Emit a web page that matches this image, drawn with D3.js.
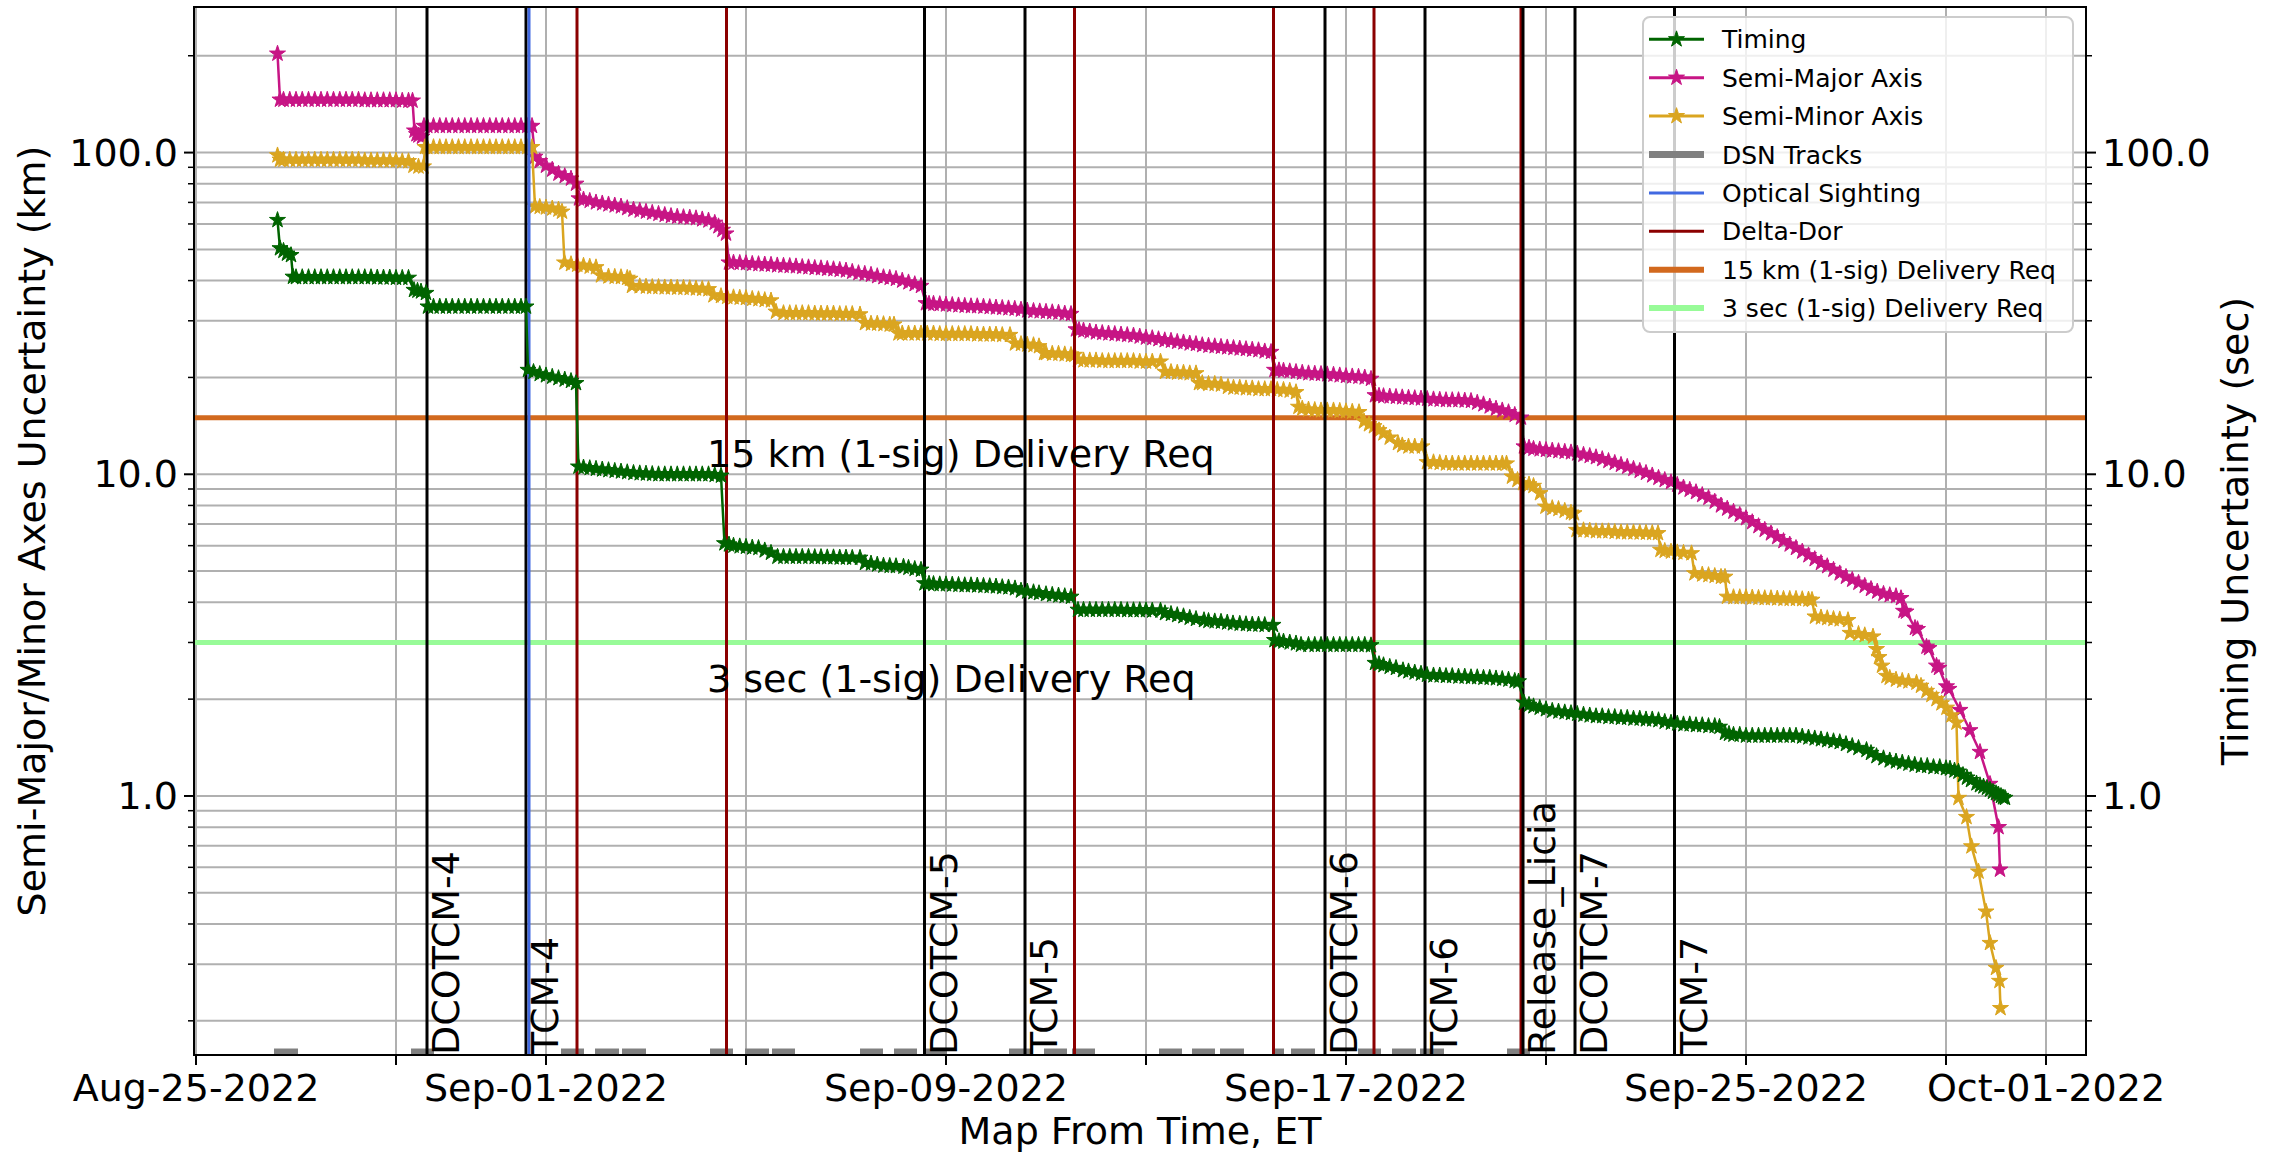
<!DOCTYPE html>
<html><head><meta charset="utf-8">
<script src="https://cdn.jsdelivr.net/npm/d3@7"></script>
<style>
body{margin:0;background:#fff;}
text{font-family:"DejaVu Sans",sans-serif;fill:#000;}
</style>
</head><body>
<svg id="chart" width="2279" height="1155"></svg>
<script>
// ---------------- DATA ----------------
// time values are days after 2022-08-25 00:00 UTC
const xTickDates = ["2022-08-25","2022-08-29","2022-09-01","2022-09-05","2022-09-09","2022-09-13","2022-09-17","2022-09-21","2022-09-25","2022-09-29","2022-10-01"];
const xTickLabels = ["Aug-25-2022","","Sep-01-2022","","Sep-09-2022","","Sep-17-2022","","Sep-25-2022","","Oct-01-2022"];
const yMajorTicks = [1, 10, 100];
const yMajorLabels = ["1.0", "10.0", "100.0"];
const yMinorTicks = [0.2,0.3,0.4,0.5,0.6,0.7,0.8,0.9,2,3,4,5,6,7,8,9,20,30,40,50,60,70,80,90,200];

const timing = [[1.63,61.7],[1.68,50.4],[1.75,49.5],[1.82,48.5],[1.9,48],[1.94,41.1],
[2.0,41],[2.125,41],[2.25,41],[2.375,41],[2.5,41],[2.625,41],[2.75,41],[2.875,41],[3.0,41],[3.125,41],[3.25,41],[3.375,41],[3.5,41],[3.625,40.9],[3.75,40.9],[3.875,40.9],[4.0,40.8],[4.125,40.8],[4.25,40.8],
[4.36,37.4],[4.43,37.2],[4.5,37],[4.6,36.6],
[4.64,33.2],[4.75,33.2],[4.875,33.2],[5.0,33.2],[5.125,33.2],[5.25,33.2],[5.375,33.2],[5.5,33.2],[5.625,33.2],[5.75,33.2],[5.875,33.2],[6.0,33.2],[6.125,33.2],[6.25,33.2],[6.375,33.2],[6.5,33.2],[6.6,33.2],
[6.64,21.1],[6.75,20.8],[6.875,20.5],[7.0,20.3],[7.125,20.1],[7.25,19.9],[7.375,19.7],[7.5,19.5],[7.6,19.2],
[7.65,10.56],[7.75,10.5],[7.875,10.45],[8.0,10.4],[8.125,10.35],[8.25,10.3],[8.375,10.25],[8.5,10.2],[8.625,10.15],[8.75,10.1],[8.875,10.07],[9.0,10.05],[9.125,10.02],[9.25,10.0],[9.375,10.0],[9.5,10.0],[9.625,10.0],[9.75,10.0],[9.875,10.0],[10.0,10.0],[10.125,10.0],[10.25,10.0],[10.375,9.95],[10.5,9.9],
[10.57,6.1],[10.66,6.05],[10.75,6.0],[10.875,5.97],[11.0,5.95],[11.125,5.92],[11.25,5.9],[11.375,5.8],[11.5,5.7],[11.63,5.54],[11.75,5.54],[11.875,5.54],[12.0,5.54],[12.125,5.54],[12.25,5.54],[12.375,5.53],[12.5,5.53],[12.625,5.52],[12.75,5.52],[12.875,5.51],[13.0,5.51],[13.125,5.5],[13.28,5.5],
[13.38,5.3],[13.5,5.28],[13.625,5.24],[13.75,5.2],[13.875,5.19],[14.0,5.18],[14.15,5.16],[14.25,5.12],[14.375,5.08],[14.5,5.05],
[14.57,4.58],[14.66,4.57],[14.75,4.56],[14.875,4.55],[15.0,4.55],[15.125,4.54],[15.25,4.53],[15.375,4.52],[15.5,4.52],[15.625,4.51],[15.75,4.5],[15.875,4.49],[16.0,4.48],[16.125,4.46],[16.25,4.45],[16.38,4.42],[16.5,4.35],[16.625,4.32],[16.75,4.3],[16.86,4.27],[17.0,4.24],[17.125,4.22],[17.25,4.2],[17.375,4.18],[17.5,4.16],
[17.64,3.79],[17.75,3.79],[17.875,3.79],[18.0,3.79],[18.125,3.79],[18.25,3.79],[18.375,3.79],[18.5,3.79],[18.625,3.78],[18.75,3.78],[18.875,3.78],[19.0,3.78],[19.125,3.77],[19.29,3.77],
[19.38,3.7],[19.5,3.68],[19.625,3.65],[19.75,3.62],[19.875,3.58],[20.0,3.55],[20.16,3.52],[20.25,3.5],[20.375,3.49],[20.5,3.48],[20.625,3.46],[20.74,3.44],[20.875,3.43],[21.0,3.42],[21.125,3.41],[21.25,3.41],[21.375,3.4],[21.54,3.4],
[21.57,3.05],[21.66,3.03],[21.75,3.02],[21.875,3.0],[22.0,2.98],[22.1,2.95],[22.25,2.95],[22.375,2.95],[22.5,2.95],[22.625,2.95],[22.75,2.95],[22.875,2.95],[23.0,2.95],[23.125,2.95],[23.25,2.95],[23.375,2.95],[23.5,2.94],
[23.58,2.59],[23.66,2.57],[23.75,2.55],[23.875,2.52],[24.0,2.5],[24.14,2.46],[24.25,2.44],[24.375,2.42],[24.5,2.4],[24.62,2.38],[24.75,2.37],[24.875,2.37],[25.0,2.36],[25.125,2.36],[25.25,2.35],[25.375,2.35],[25.5,2.34],[25.625,2.34],[25.75,2.33],[25.875,2.33],[26.0,2.32],[26.125,2.31],[26.25,2.3],[26.375,2.28],[26.45,2.27],
[26.56,1.95],[26.66,1.92],[26.75,1.9],[26.875,1.88],[27.0,1.86],[27.125,1.84],[27.25,1.83],[27.375,1.82],[27.5,1.81],[27.625,1.8],[27.75,1.79],[27.875,1.78],[28.0,1.77],[28.125,1.77],[28.25,1.76],[28.375,1.76],[28.5,1.75],[28.625,1.75],[28.75,1.74],[28.875,1.74],[29.0,1.73],[29.125,1.73],[29.25,1.72],[29.375,1.7],[29.5,1.69],[29.625,1.68],[29.75,1.67],[29.875,1.67],[30.0,1.66],[30.125,1.66],[30.25,1.65],[30.375,1.65],[30.47,1.64],
[30.58,1.57],[30.66,1.56],[30.75,1.55],[30.875,1.55],[31.0,1.54],[31.125,1.54],[31.25,1.54],[31.375,1.54],[31.5,1.54],[31.625,1.54],[31.75,1.54],[31.875,1.54],[32.0,1.54],[32.125,1.53],[32.25,1.52],[32.375,1.51],[32.5,1.5],[32.625,1.49],[32.75,1.48],[32.875,1.47],[33.0,1.45],[33.125,1.43],[33.25,1.41],[33.41,1.39],[33.5,1.36],[33.61,1.33],[33.75,1.31],[33.875,1.29],[34.0,1.28],[34.125,1.27],[34.25,1.26],[34.375,1.25],[34.5,1.24],[34.625,1.24],[34.75,1.23],[34.875,1.23],[35.0,1.22],[35.08,1.216],[35.17,1.2],[35.25,1.19],[35.34,1.162],[35.42,1.14],[35.5,1.12],[35.61,1.094],[35.68,1.08],[35.75,1.07],[35.82,1.06],[35.88,1.046],[35.94,1.03],[36.0,1.02],[36.05,1.01],[36.1,1.0],[36.14,0.99],[36.18,0.986]];

const semiMajor = [[1.63,203],[1.68,146],[1.75,146],[1.875,146],[2.0,146],[2.125,146],[2.25,146],[2.375,146],[2.5,146],[2.625,146],[2.75,146],[2.875,146],[3.0,146],[3.125,146],[3.25,146],[3.375,145.5],[3.5,145.5],[3.625,145.5],[3.75,145.5],[3.875,145.5],[4.0,145.5],[4.125,145],[4.25,145],[4.33,145],
[4.37,117],[4.41,114],[4.45,113],[4.52,112],[4.56,121],[4.625,121],[4.75,121],[4.875,121],[5.0,121],[5.125,121],[5.25,121],[5.375,121],[5.5,121],[5.625,121],[5.75,121],[5.875,121],[6.0,121],[6.125,121],[6.25,121],[6.375,121],[6.5,121],[6.625,121],[6.72,121],
[6.78,97],[6.875,94],[7.0,91],[7.125,88.5],[7.25,86],[7.375,84.5],[7.5,83],[7.6,80],
[7.66,72],[7.75,71.5],[7.875,70.8],[8.0,70],[8.125,69.5],[8.25,69],[8.375,68.5],[8.5,68],[8.625,67.2],[8.75,66.5],[8.875,66],[9.0,65.5],[9.125,65],[9.25,64.5],[9.375,64],[9.5,63.5],[9.625,63.2],[9.75,63],[9.875,62.8],[10.0,62.5],[10.125,62],[10.25,61.5],[10.375,60.5],[10.45,59],[10.53,57.5],[10.6,56],
[10.66,45.5],[10.75,45.5],[10.875,45.4],[11.0,45.3],[11.125,45.1],[11.25,45],[11.375,44.9],[11.5,44.8],[11.625,44.6],[11.75,44.5],[11.875,44.4],[12.0,44.3],[12.125,44.1],[12.25,44],[12.375,43.8],[12.5,43.7],[12.625,43.5],[12.75,43.4],[12.875,43.2],[13.0,43],[13.125,42.6],[13.25,42.2],[13.375,42],[13.5,41.7],[13.625,41.3],[13.75,41],[13.875,40.8],[14.0,40.5],[14.125,40],[14.25,39.5],[14.375,39],[14.5,38.5],
[14.6,34],[14.66,33.9],[14.75,33.9],[14.875,33.8],[15.0,33.7],[15.125,33.6],[15.25,33.5],[15.375,33.4],[15.5,33.3],[15.625,33.3],[15.75,33.2],[15.875,33.1],[16.0,33],[16.125,32.9],[16.25,32.8],[16.375,32.7],[16.5,32.5],[16.625,32.3],[16.75,32.2],[16.875,32.1],[17.0,32],[17.125,31.9],[17.25,31.8],[17.375,31.6],[17.5,31.5],
[17.6,28.2],[17.66,28.1],[17.75,28],[17.875,27.8],[18.0,27.6],[18.125,27.5],[18.25,27.4],[18.375,27.3],[18.5,27.2],[18.625,27.1],[18.75,27.0],[18.875,26.8],[19.0,26.6],[19.125,26.5],[19.25,26.3],[19.375,26.1],[19.5,26],[19.625,25.8],[19.75,25.7],[19.875,25.5],[20.0,25.4],[20.125,25.2],[20.25,25.1],[20.375,25],[20.5,24.9],[20.625,24.8],[20.75,24.7],[20.875,24.6],[21.0,24.5],[21.125,24.4],[21.25,24.3],[21.375,24.1],[21.5,24.0],
[21.57,21.1],[21.66,21.05],[21.75,21.0],[21.875,20.9],[22.0,20.8],[22.125,20.7],[22.25,20.6],[22.375,20.55],[22.5,20.5],[22.625,20.45],[22.75,20.4],[22.875,20.3],[23.0,20.2],[23.125,20.15],[23.25,20.1],[23.375,20],[23.5,19.8],
[23.58,17.6],[23.66,17.55],[23.75,17.5],[23.875,17.45],[24.0,17.4],[24.125,17.35],[24.25,17.3],[24.375,17.25],[24.5,17.2],[24.625,17.15],[24.75,17.1],[24.875,17.05],[25.0,17.0],[25.125,17.0],[25.25,17.0],[25.375,16.95],[25.5,16.9],[25.625,16.7],[25.75,16.5],[25.875,16.25],[26.0,16.0],[26.125,15.8],[26.25,15.6],[26.375,15.3],[26.5,15.0],
[26.56,12.2],[26.66,12.1],[26.75,12.0],[26.875,11.95],[27.0,11.9],[27.125,11.85],[27.25,11.8],[27.375,11.75],[27.5,11.7],[27.625,11.6],[27.75,11.5],[27.875,11.4],[28.0,11.3],[28.125,11.15],[28.25,11.0],[28.375,10.85],[28.5,10.7],[28.625,10.55],[28.75,10.4],[28.875,10.25],[29.0,10.1],[29.125,9.92],[29.25,9.75],[29.375,9.6],[29.5,9.45],[29.625,9.28],[29.75,9.1],[29.875,8.95],[30.0,8.8],[30.125,8.62],[30.25,8.45],[30.375,8.22],[30.5,8.0],[30.625,7.82],[30.75,7.65],[30.875,7.48],[31.0,7.3],[31.125,7.1],[31.25,6.9],[31.375,6.72],[31.5,6.55],[31.625,6.38],[31.75,6.2],[31.875,6.05],[32.0,5.9],[32.125,5.75],[32.25,5.6],[32.375,5.45],[32.5,5.3],[32.625,5.18],[32.75,5.05],[32.875,4.92],[33.0,4.8],[33.125,4.7],[33.25,4.6],[33.375,4.5],[33.5,4.4],[33.625,4.32],[33.75,4.25],[33.875,4.21],[34.0,4.18],[34.1,4.12],
[34.15,3.76],[34.2,3.74],[34.38,3.33],[34.43,3.3],[34.61,2.91],[34.66,2.88],[34.81,2.54],[34.86,2.5],[35.01,2.19],[35.06,2.15],[35.28,1.85],[35.48,1.6],[35.68,1.37],[35.88,1.09],[36.05,0.8],[36.08,0.59]];

const semiMinor = [[1.63,98],[1.68,95],[1.75,95],[1.875,95],[2.0,95],[2.125,95],[2.25,95],[2.375,95],[2.5,95],[2.625,95],[2.75,95],[2.875,95],[3.0,95],[3.125,95],[3.25,95],[3.375,94.5],[3.5,94.5],[3.625,94.5],[3.75,94.5],[3.875,94.5],[4.0,94.5],[4.125,94],[4.25,94],
[4.35,91],[4.45,90.5],[4.55,90.5],
[4.58,104],[4.625,104],[4.75,104],[4.875,104],[5.0,104],[5.125,104],[5.25,104],[5.375,104],[5.5,104],[5.625,104],[5.75,104],[5.875,104],[6.0,104],[6.125,104],[6.25,104],[6.375,104],[6.5,104],[6.625,104],[6.72,104],
[6.78,68],[6.875,67.8],[7.0,67.5],[7.125,67],[7.25,66.5],[7.32,65.5],
[7.37,45.5],[7.5,45],[7.625,44.8],[7.75,44.5],[7.875,44.2],[8.0,44],
[8.1,41.5],[8.25,41.2],[8.375,41.1],[8.5,41],[8.625,40.8],[8.68,40.5],
[8.72,38.5],[8.875,38.4],[9.0,38.3],[9.125,38.2],[9.25,38.2],[9.375,38.1],[9.5,38.1],[9.625,38],[9.75,38],[9.875,37.9],[10.0,37.8],[10.125,37.7],[10.25,37.6],
[10.35,36],[10.5,35.8],[10.625,35.6],[10.75,35.5],[10.875,35.4],[11.0,35.3],[11.125,35.1],[11.25,35],[11.375,34.8],[11.5,34.7],
[11.6,32],[11.75,31.7],[11.875,31.7],[12.0,31.7],[12.125,31.7],[12.25,31.7],[12.375,31.6],[12.5,31.6],[12.625,31.6],[12.75,31.6],[12.875,31.5],[13.0,31.5],[13.125,31.5],[13.28,31.4],
[13.38,29.5],[13.5,29.4],[13.625,29.4],[13.75,29.3],[13.875,29.2],[13.96,29.2],
[14.05,27.4],[14.125,27.4],[14.25,27.4],[14.375,27.4],[14.5,27.4],[14.625,27.4],[14.75,27.4],[14.875,27.3],[15.0,27.3],[15.125,27.3],[15.25,27.3],[15.375,27.3],[15.5,27.3],[15.625,27.2],[15.75,27.2],[15.875,27.2],[16.0,27.2],[16.125,27.1],[16.28,27.1],
[16.38,25.5],[16.5,25.4],[16.625,25.3],[16.75,25.2],[16.86,25.0],
[16.96,23.8],[17.0,23.8],[17.125,23.7],[17.25,23.7],[17.375,23.6],[17.5,23.5],[17.57,23.5],
[17.64,22.7],[17.75,22.6],[17.875,22.6],[18.0,22.6],[18.125,22.5],[18.25,22.5],[18.375,22.5],[18.5,22.5],[18.625,22.5],[18.75,22.5],[18.875,22.4],[19.0,22.4],[19.125,22.4],[19.29,22.4],
[19.38,20.8],[19.5,20.8],[19.625,20.7],[19.75,20.7],[19.875,20.6],[20.0,20.6],
[20.06,19.2],[20.125,19.2],[20.25,19.1],[20.375,19.1],[20.5,19.0],[20.64,18.7],[20.75,18.6],[20.875,18.6],[21.0,18.5],[21.125,18.5],[21.25,18.4],[21.375,18.4],[21.5,18.4],[21.625,18.3],[21.75,18.3],[21.875,18.2],[22.0,18.0],
[22.05,16.2],[22.125,16.0],[22.25,15.9],[22.375,15.85],[22.5,15.8],[22.625,15.8],[22.75,15.8],[22.875,15.75],[23.0,15.7],[23.125,15.65],[23.26,15.6],
[23.36,14.6],[23.46,14.3],[23.56,14.1],[23.66,13.7],[23.75,13.4],[23.875,13.0],[24.04,12.5],[24.125,12.3],[24.25,12.2],[24.375,12.2],[24.52,12.2],
[24.62,10.9],[24.75,10.9],[24.875,10.85],[25.0,10.8],[25.125,10.8],[25.25,10.8],[25.375,10.8],[25.5,10.8],[25.625,10.8],[25.75,10.8],[25.875,10.8],[26.0,10.8],[26.125,10.8],[26.21,10.8],
[26.32,9.83],[26.43,9.6],[26.54,9.38],[26.66,9.3],[26.75,9.2],[26.88,8.73],
[26.99,7.93],[27.125,7.85],[27.25,7.8],[27.375,7.7],[27.5,7.6],[27.56,7.56],
[27.61,6.71],[27.75,6.7],[27.875,6.68],[28.0,6.65],[28.125,6.65],[28.25,6.65],[28.375,6.62],[28.5,6.6],[28.625,6.6],[28.75,6.6],[28.875,6.59],[29.0,6.58],[29.125,6.57],[29.24,6.56],
[29.29,5.82],[29.375,5.78],[29.5,5.75],[29.625,5.72],[29.75,5.7],[29.91,5.68],
[29.97,4.92],[30.125,4.88],[30.25,4.86],[30.375,4.83],[30.5,4.8],[30.58,4.8],
[30.62,4.16],[30.75,4.15],[30.875,4.15],[31.0,4.15],[31.125,4.14],[31.25,4.13],[31.375,4.12],[31.5,4.12],[31.625,4.11],[31.75,4.1],[31.875,4.1],[32.0,4.1],[32.125,4.09],[32.25,4.08],[32.32,4.07],
[32.38,3.61],[32.5,3.59],[32.625,3.57],[32.75,3.55],[32.875,3.54],[33.04,3.52],
[33.08,3.21],[33.25,3.19],[33.375,3.16],[33.54,3.13],
[33.61,2.86],[33.66,2.7],[33.72,2.54],[33.81,2.36],[33.875,2.33],[34.0,2.3],[34.125,2.28],[34.25,2.27],[34.41,2.25],[34.5,2.2],[34.61,2.12],[34.71,2.06],[34.81,2.0],[34.91,1.94],[35.01,1.88],[35.11,1.78],[35.21,1.69],
[35.25,0.986],[35.41,0.86],[35.51,0.697],[35.65,0.582],[35.8,0.437],[35.88,0.349],[36.0,0.292],[36.07,0.266],[36.09,0.219]];

const maneuverNames = ["DCOTCM-4","TCM-4","DCOTCM-5","TCM-5","DCOTCM-6","TCM-6","Release_Licia","DCOTCM-7","TCM-7"];
const maneuverDays = [4.62, 6.60, 14.57, 16.58, 22.58, 24.58, 26.54, 27.58, 29.57];
const opticalDays = [6.66];
const deltaDorDays = [7.62, 10.61, 17.57, 21.55, 23.56, 26.50];
const dsnTracks = [[1.56,2.04],[4.30,4.76],[7.30,7.76],[7.98,8.46],[8.52,9.00],[10.28,10.74],[10.98,11.46],[11.52,11.98],[13.28,13.74],[13.96,14.42],[14.56,15.02],[16.26,16.74],[16.96,17.42],[17.52,17.98],[19.26,19.72],[19.92,20.38],[20.48,20.96],[21.52,21.76],[21.90,22.38],[23.24,23.70],[23.92,24.40],[24.48,24.96],[26.22,26.68]];
const dsnLevel = 0.16;
const reqKm = 15, reqSec = 3;
const reqLabels = ["15 km (1-sig) Delivery Req", "3 sec (1-sig) Delivery Req"];
const reqLabelPos = [[10.22, 10.5], [10.22, 2.1]];

const legendNames = ["Timing","Semi-Major Axis","Semi-Minor Axis","DSN Tracks","Optical Sighting","Delta-Dor","15 km (1-sig) Delivery Req","3 sec (1-sig) Delivery Req"];

// ---------------- STYLE ----------------
const C = {timing:"#006400", sma:"#C71585", smi:"#DAA520", dsn:"#808080", optical:"#4169E1", dd:"#8B0000", km:"#D2691E", sec:"#98FB98", grid:"#b0b0b0"};
const FS = 38;

const svg = d3.select("#chart");
const L = 194, R = 2086, T = 7, B = 1055;
const base = Date.UTC(2022, 7, 25);
const toDate = d => new Date(base + d * 864e5);
const x = d3.scaleUtc().domain([toDate(-0.04), toDate(37.8)]).range([L, R]);
const y = d3.scaleLog().domain([0.1566, 283.5]).range([B, T]);

svg.append("rect").attr("width", 2279).attr("height", 1155).attr("fill", "#fff");
svg.append("defs").append("clipPath").attr("id", "clip")
  .append("rect").attr("x", L).attr("y", T).attr("width", R - L).attr("height", B - T);

const plot = svg.append("g").attr("clip-path", "url(#clip)");
const tickDates = xTickDates.map(s => new Date(s + "T00:00:00Z"));

// grid
plot.selectAll(".vg").data(tickDates).join("line")
  .attr("x1", d => x(d)).attr("x2", d => x(d)).attr("y1", T).attr("y2", B)
  .attr("stroke", C.grid).attr("stroke-width", 2);
plot.selectAll(".hg").data(yMajorTicks.concat(yMinorTicks)).join("line")
  .attr("x1", L).attr("x2", R).attr("y1", d => y(d)).attr("y2", d => y(d))
  .attr("stroke", C.grid).attr("stroke-width", 2);

// requirement lines
[[reqKm, C.km], [reqSec, C.sec]].forEach(([v, c]) => {
  plot.append("line").attr("x1", L).attr("x2", R).attr("y1", y(v)).attr("y2", y(v))
    .attr("stroke", c).attr("stroke-width", 5);
});

// DSN tracks
plot.selectAll(".dsn").data(dsnTracks).join("line")
  .attr("x1", d => x(toDate(d[0]))).attr("x2", d => x(toDate(d[1])))
  .attr("y1", y(dsnLevel)).attr("y2", y(dsnLevel))
  .attr("stroke", C.dsn).attr("stroke-width", 7);

// series
const star = d3.symbol().type(d3.symbolStar).size(80);
function drawSeries(data, color) {
  const line = d3.line().x(d => x(toDate(d[0]))).y(d => y(d[1]));
  plot.append("path").datum(data).attr("d", line).attr("fill", "none")
    .attr("stroke", color).attr("stroke-width", 2.5);
  plot.append("g").selectAll("path").data(data).join("path")
    .attr("d", star).attr("fill", color).attr("stroke", color).attr("stroke-width", 1)
    .attr("transform", d => `translate(${x(toDate(d[0]))},${y(d[1])})`);
}
drawSeries(semiMajor, C.sma);
drawSeries(semiMinor, C.smi);

// event lines
deltaDorDays.forEach(d => plot.append("line").attr("x1", x(toDate(d))).attr("x2", x(toDate(d)))
  .attr("y1", T).attr("y2", B).attr("stroke", C.dd).attr("stroke-width", 3));
maneuverDays.forEach(d => plot.append("line").attr("x1", x(toDate(d))).attr("x2", x(toDate(d)))
  .attr("y1", T).attr("y2", B).attr("stroke", "#000").attr("stroke-width", 3));
opticalDays.forEach(d => plot.append("line").attr("x1", x(toDate(d))).attr("x2", x(toDate(d)))
  .attr("y1", T).attr("y2", B).attr("stroke", C.optical).attr("stroke-width", 3));

drawSeries(timing, C.timing);

// maneuver labels
maneuverNames.forEach((n, i) => {
  const px = x(toDate(maneuverDays[i])), py = y.range()[0];
  svg.append("text").attr("transform", `translate(${px},${py}) rotate(-90)`)
    .attr("dy", 32).attr("font-size", FS).text(n);
});

// requirement labels
reqLabels.forEach((t, i) => {
  svg.append("text").attr("x", x(toDate(reqLabelPos[i][0]))).attr("y", y(reqLabelPos[i][1]))
    .attr("font-size", FS).text(t);
});

// spines
svg.append("rect").attr("x", L).attr("y", T).attr("width", R - L).attr("height", B - T)
  .attr("fill", "none").attr("stroke", "#000").attr("stroke-width", 2);

// x ticks
tickDates.forEach((d, i) => {
  svg.append("line").attr("x1", x(d)).attr("x2", x(d)).attr("y1", B).attr("y2", B + 10)
    .attr("stroke", "#000").attr("stroke-width", 2);
  if (xTickLabels[i]) svg.append("text").attr("x", x(d)).attr("y", B + 46)
    .attr("text-anchor", "middle").attr("font-size", FS).text(xTickLabels[i]);
});

// y ticks both sides
yMajorTicks.forEach((v, i) => {
  [[L, -1], [R, 1]].forEach(([ax, s]) => {
    svg.append("line").attr("x1", ax).attr("x2", ax + s * 10).attr("y1", y(v)).attr("y2", y(v))
      .attr("stroke", "#000").attr("stroke-width", 2);
    svg.append("text").attr("x", ax + s * 16).attr("y", y(v) + 13)
      .attr("text-anchor", s < 0 ? "end" : "start").attr("font-size", FS).text(yMajorLabels[i]);
  });
});
yMinorTicks.forEach(v => {
  [[L, -1], [R, 1]].forEach(([ax, s]) => {
    svg.append("line").attr("x1", ax).attr("x2", ax + s * 6).attr("y1", y(v)).attr("y2", y(v))
      .attr("stroke", "#000").attr("stroke-width", 1.5);
  });
});

// axis labels
svg.append("text").attr("transform", `translate(45,${(T + B) / 2}) rotate(-90)`)
  .attr("text-anchor", "middle").attr("font-size", FS).text("Semi-Major/Minor Axes Uncertainty (km)");
svg.append("text").attr("transform", `translate(2248,${(T + B) / 2}) rotate(-90)`)
  .attr("text-anchor", "middle").attr("font-size", FS).text("Timing Uncertainty (sec)");
svg.append("text").attr("x", (L + R) / 2).attr("y", 1144)
  .attr("text-anchor", "middle").attr("font-size", FS).text("Map From Time, ET");

// legend
const lg = svg.append("g").attr("transform", "translate(1643,17)");
lg.append("rect").attr("width", 430).attr("height", 315).attr("rx", 7)
  .attr("fill", "#fff").attr("fill-opacity", 0.8).attr("stroke", "#cccccc").attr("stroke-width", 2);
const legendStyles = [
  {c: C.timing, w: 3, m: true}, {c: C.sma, w: 3, m: true}, {c: C.smi, w: 3, m: true},
  {c: C.dsn, w: 7}, {c: C.optical, w: 3}, {c: C.dd, w: 3}, {c: C.km, w: 6}, {c: C.sec, w: 6}];
legendNames.forEach((n, i) => {
  const cy = 22.3 + i * 38.4, st = legendStyles[i];
  lg.append("line").attr("x1", 6).attr("x2", 61).attr("y1", cy).attr("y2", cy)
    .attr("stroke", st.c).attr("stroke-width", st.w);
  if (st.m) lg.append("path").attr("d", star).attr("fill", st.c).attr("stroke", st.c)
    .attr("transform", `translate(33.5,${cy})`);
  lg.append("text").attr("x", 79).attr("y", cy + 9).attr("font-size", 25).text(n);
});
</script>
</body></html>
